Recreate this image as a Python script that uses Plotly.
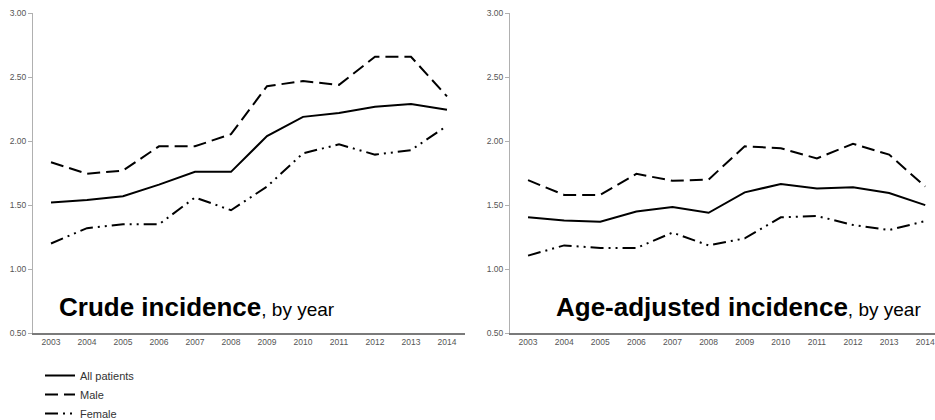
import plotly.graph_objects as go

# Incidence per year (crude and age-adjusted), three patient groups
years = ["2003", "2004", "2005", "2006", "2007", "2008",
         "2009", "2010", "2011", "2012", "2013", "2014"]

crude_all = [1.52, 1.54, 1.57, 1.66, 1.76, 1.76, 2.04, 2.19, 2.22, 2.27, 2.29, 2.245]
crude_male = [1.835, 1.745, 1.77, 1.96, 1.96, 2.055, 2.43, 2.47, 2.44, 2.66, 2.66, 2.35]
crude_female = [1.20, 1.32, 1.35, 1.35, 1.56, 1.46, 1.645, 1.905, 1.975, 1.895, 1.93, 2.12]

adj_all = [1.405, 1.38, 1.37, 1.45, 1.485, 1.44, 1.60, 1.665, 1.63, 1.64, 1.595, 1.50]
adj_male = [1.695, 1.58, 1.58, 1.745, 1.69, 1.70, 1.96, 1.945, 1.865, 1.98, 1.895, 1.645]
adj_female = [1.105, 1.185, 1.165, 1.165, 1.285, 1.185, 1.24, 1.405, 1.415, 1.345, 1.305, 1.375]

y_ticks = [0.5, 1.0, 1.5, 2.0, 2.5, 3.0]

W, H = 935, 420
FONT = "Liberation Sans, Arial, sans-serif"

styles = {
    "All patients": dict(color="black", width=2, dash="solid"),
    "Male": dict(color="black", width=2, dash="13px,6px"),
    "Female": dict(color="black", width=2, dash="13px,5px,2px,5px,2px,5px"),
}

fig = go.Figure()

panels = [
    ("x", "y", crude_all, crude_male, crude_female, True),
    ("x2", "y2", adj_all, adj_male, adj_female, False),
]
for xa, ya, a, m, f, show in panels:
    for name, vals in (("All patients", a), ("Male", m), ("Female", f)):
        fig.add_trace(go.Scatter(
            x=years, y=vals, mode="lines", name=name,
            line=styles[name], xaxis=xa, yaxis=ya,
            showlegend=show, hoverinfo="skip",
        ))

def px_x(p):
    return p / W

def px_y(p):
    return 1 - p / H

tick_font = dict(family=FONT, size=8.5, color="#555555")

common_x = dict(type="category", showgrid=False, zeroline=False,
                showline=True, linecolor="#7a7a7a", linewidth=2,
                ticks="", tickfont=tick_font, fixedrange=True,
                automargin=False)
common_y = dict(range=[0.5, 3.0], tickvals=y_ticks,
                ticktext=[f"{v:.2f}" for v in y_ticks],
                showgrid=False, zeroline=False, showline=True,
                linecolor="#b0b0b0", linewidth=1, ticks="outside",
                ticklen=4, tickcolor="#b0b0b0", tickfont=tick_font,
                fixedrange=True, automargin=False)

y_dom = [px_y(333), px_y(13.3)]

fig.update_layout(
    width=W, height=H,
    margin=dict(l=0, r=0, t=0, b=0, autoexpand=False),
    paper_bgcolor="white", plot_bgcolor="white",
    xaxis=dict(common_x, domain=[px_x(33), px_x(465)], range=[-0.5, 11.5]),
    yaxis=dict(common_y, domain=y_dom, anchor="x"),
    xaxis2=dict(common_x, domain=[px_x(510), 1.0], range=[-0.5, 11.27], anchor="y2"),
    yaxis2=dict(common_y, domain=y_dom, anchor="x2"),
    legend=dict(
        x=px_x(40), y=px_y(428), xanchor="left", yanchor="bottom",
        font=dict(family=FONT, size=11, color="#333333"),
        bgcolor="rgba(0,0,0,0)", borderwidth=0, tracegroupgap=0,
    ),
    showlegend=True,
)

def title_text(bold_part):
    return (f"<b>{bold_part}</b>"
            "<span style='font-size:19px'>, by year</span>")

for x_px, label in ((57, "Crude incidence"), (554, "Age-adjusted incidence")):
    fig.add_annotation(
        x=px_x(x_px), y=px_y(324), xref="paper", yref="paper",
        xanchor="left", yanchor="bottom", showarrow=False,
        text=title_text(label),
        font=dict(family=FONT, size=26, color="black"),
    )

fig.write_html("out.html")
